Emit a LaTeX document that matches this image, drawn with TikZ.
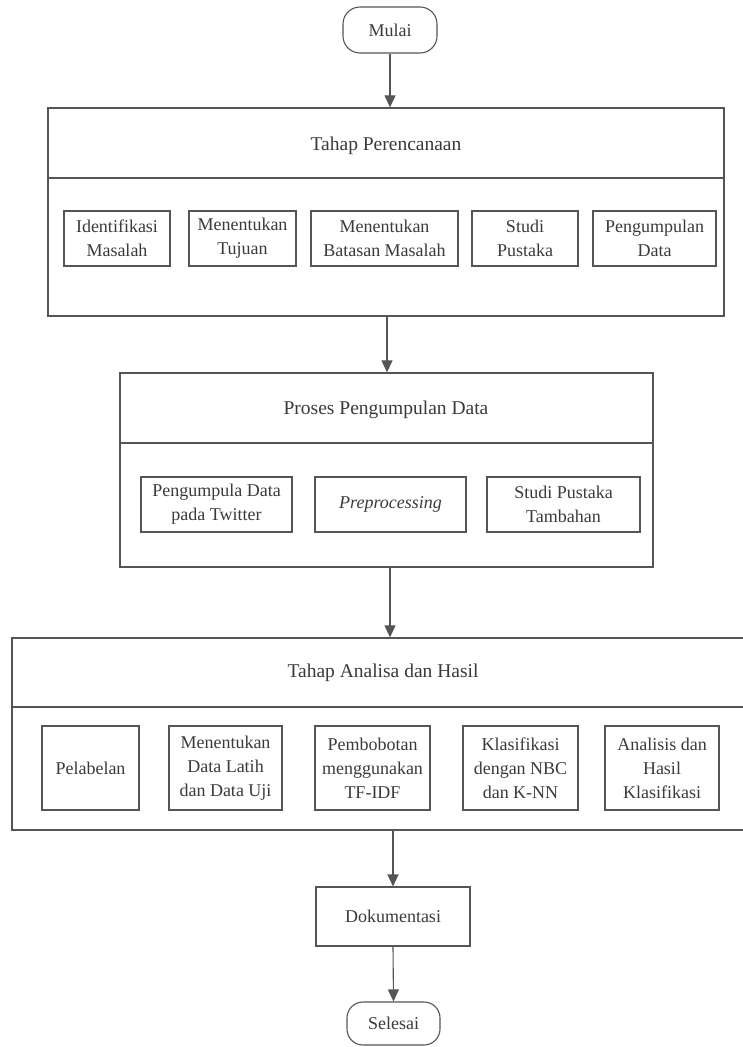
\documentclass[tikz,border=0pt]{standalone}
\usepackage{fontspec}
\setmainfont{Liberation Serif}
\usetikzlibrary{arrows.meta}
\definecolor{ln}{HTML}{555555}
\definecolor{tx}{HTML}{3A3A3A}
\tikzset{
  every node/.style={text=tx, inner sep=0pt},
  bigbox/.style={draw=ln, line width=1.3pt, minimum width=#1},
  sub/.style={draw=ln, line width=1.1pt, align=center, font=\fontsize{18}{24}\selectfont},
  ttl/.style={font=\fontsize{19.5}{24}\selectfont},
  term/.style={draw=ln, line width=1.1pt, rounded corners=17pt, font=\fontsize{18}{24}\selectfont},
  arr/.style={draw=ln, line width=1.1pt, -{Triangle[length=12pt,width=11pt]}},
  divline/.style={draw=ln, line width=1.3pt}
}
\begin{document}
\begin{tikzpicture}[x=1pt,y=-1pt]
\useasboundingbox (0,0) rectangle (743,1047);
\clip (0,0) rectangle (743,1047);

% start
\node[term, minimum width=94pt, minimum height=46pt] (mulai) at (390,30) {Mulai};

% box 1
\node[draw=ln, line width=1.3pt, minimum width=676pt, minimum height=208pt] (b1) at (386,212) {};
\coordinate (d1) at (0,178);
\draw[divline] (b1.west |- d1) -- (b1.east |- d1);
\node[ttl] (t1) at (386,146) {Tahap Perencanaan};
\node[sub, minimum width=106pt, minimum height=55pt] (i1) at (117,238.5) {Identifikasi\\Masalah};
\node[sub, minimum width=107pt, minimum height=55pt] (i2) at (242.5,238.5) {Menentukan\\Tujuan};
\node[sub, minimum width=147pt, minimum height=55pt] (i3) at (384.5,238.5) {Menentukan\\Batasan Masalah};
\node[sub, minimum width=106pt, minimum height=55pt] (i4) at (525,238.5) {Studi\\Pustaka};
\node[sub, minimum width=123pt, minimum height=55pt] (i5) at (654.5,238.5) {Pengumpulan\\Data};

% box 2
\node[draw=ln, line width=1.3pt, minimum width=533pt, minimum height=194pt] (b2) at (386.5,470) {};
\coordinate (d2) at (0,443);
\draw[divline] (b2.west |- d2) -- (b2.east |- d2);
\node[ttl] (t2) at (386,410) {Proses Pengumpulan Data};
\node[sub, minimum width=151pt, minimum height=55pt] (p1) at (216.5,504.5) {Pengumpula Data\\pada Twitter};
\node[sub, minimum width=151pt, minimum height=55pt, font=\fontsize{18}{24}\selectfont\itshape] (p2) at (390.5,504.5) {Preprocessing};
\node[sub, minimum width=153pt, minimum height=55pt] (p3) at (563.5,504.5) {Studi Pustaka\\Tambahan};

% box 3
\node[draw=ln, line width=1.3pt, minimum width=748pt, minimum height=192pt] (b3) at (386,734) {};
\coordinate (d3) at (0,707);
\draw[divline] (b3.west |- d3) -- (b3.east |- d3);
\node[ttl] (t3) at (383,673) {Tahap Analisa dan Hasil};
\node[sub, minimum width=97pt, minimum height=84pt] (a1) at (90.5,768) {Pelabelan};
\node[sub, minimum width=113pt, minimum height=84pt] (a2) at (225.5,768) {Menentukan\\Data Latih\\dan Data Uji};
\node[sub, minimum width=115pt, minimum height=84pt] (a3) at (372.5,768) {Pembobotan\\menggunakan\\TF-IDF};
\node[sub, minimum width=115pt, minimum height=84pt] (a4) at (520.5,768) {Klasifikasi\\dengan NBC\\dan K-NN};
\node[sub, minimum width=114pt, minimum height=84pt] (a5) at (662,768) {Analisis dan\\Hasil\\Klasifikasi};

% documentation and end
\node[sub, minimum width=154pt, minimum height=59pt] (dok) at (393,916.5) {Dokumentasi};
\node[term, minimum width=93pt, minimum height=43pt, rounded corners=16pt] (selesai) at (393.5,1023.5) {Selesai};

% connectors
\draw[arr] (mulai.south) -- (mulai.south |- b1.north);
\coordinate (c12) at (387,0);
\draw[arr] (c12 |- b1.south) -- (c12 |- b2.north);
\coordinate (c23) at (390,0);
\draw[arr] (c23 |- b2.south) -- (c23 |- b3.north);
\draw[arr] (dok.north |- b3.south) -- (dok.north);
\draw[arr] (dok.south) -- (selesai.north);
\end{tikzpicture}
\end{document}
